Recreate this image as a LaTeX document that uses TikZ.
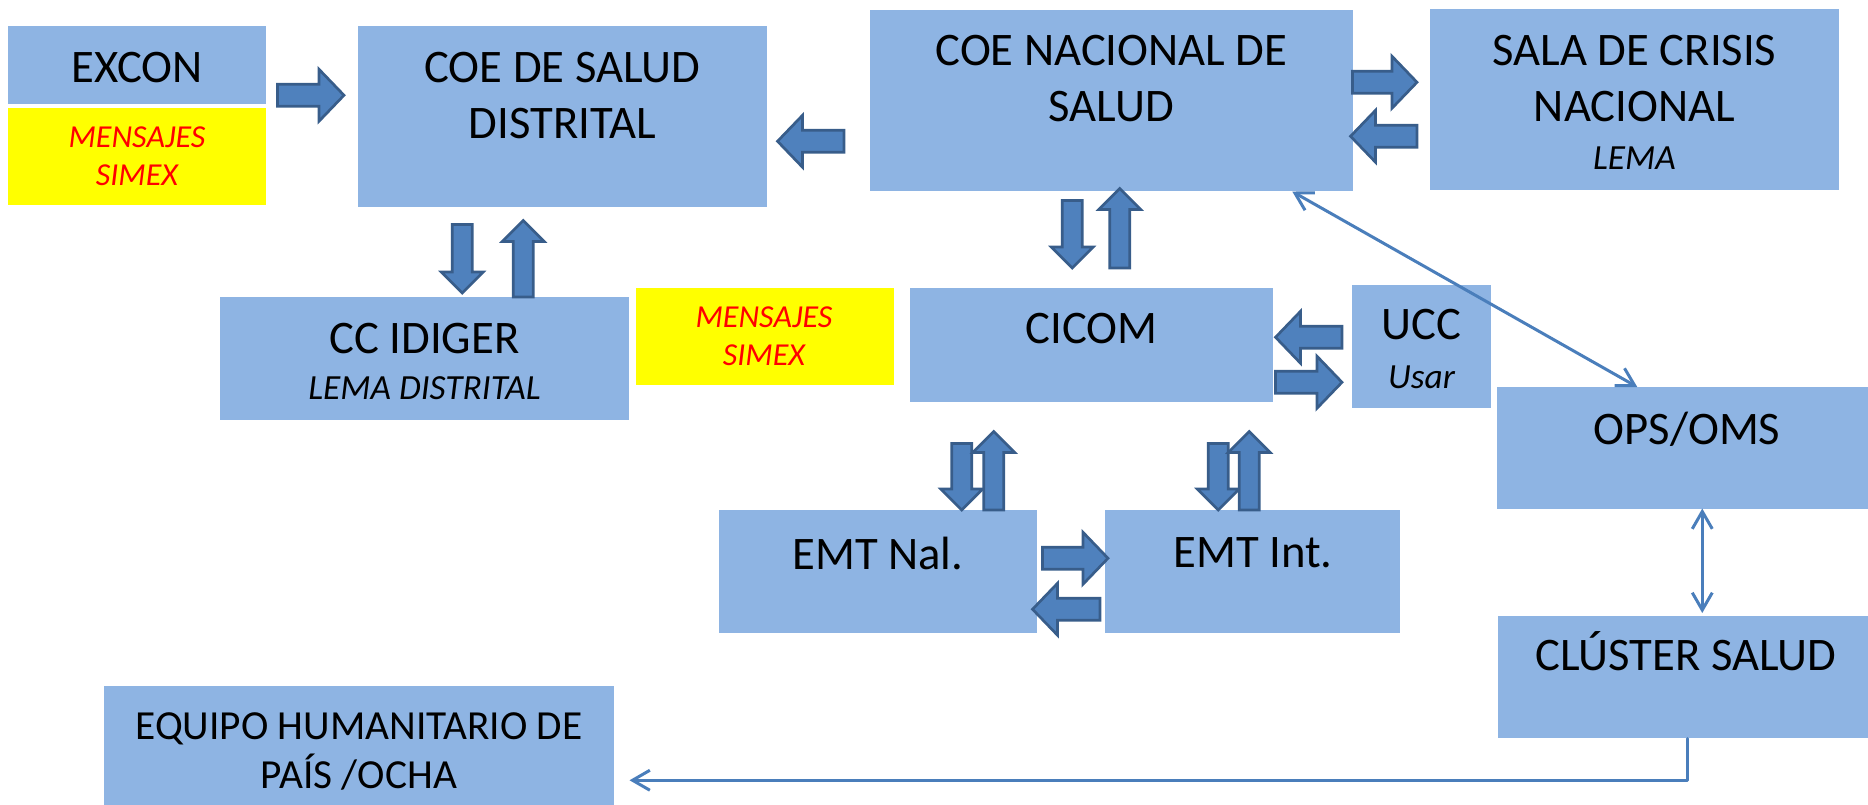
\documentclass[tikz,border=0pt]{standalone}
\usepackage{fontspec}
\setmainfont{Carlito}
\usetikzlibrary{calc,arrows.meta}

\definecolor{boxblue}{HTML}{8EB4E3}
\definecolor{arrowfill}{HTML}{4F81BD}
\definecolor{arrowline}{HTML}{385D8A}
\definecolor{linkblue}{HTML}{4A7EBB}
\definecolor{simexyellow}{HTML}{FFFF00}
\definecolor{simexred}{HTML}{FF0000}

\tikzset{
  box/.style={fill=boxblue, inner sep=0pt, anchor=north west},
  simex/.style={fill=simexyellow, inner sep=0pt, anchor=north west},
  txt/.style={inner sep=0pt, anchor=north, align=center, font=\fontsize{35}{42}\selectfont},
  redtxt/.style={txt, text=simexred, font=\fontsize{24}{28.5}\selectfont\itshape},
  link/.style={draw=linkblue, line width=2.25pt, line cap=round, line join=round},
  blkarrow/.style={fill=arrowfill, draw=arrowline, line width=2pt, line join=miter},
  >={Straight Barb[length=13pt,width=15pt]}
}
\newcommand{\itsub}[1]{{\fontsize{26.5}{30}\selectfont\itshape #1}}
% block arrow: start anchor, shift, end anchor, shift
\newcommand{\blockarr}[4]{%
  \path ([shift={(#2)}]#1) coordinate (bs) ([shift={(#4)}]#3) coordinate (be);
  \filldraw[blkarrow] ($(bs)!\bhs!90:(be)$) -- ($(be)!\bhl!(bs)!\bhs!90:(be)$) -- ($(be)!\bhl!(bs)!\bhw!90:(be)$) -- (be) -- ($(be)!\bhl!(bs)!\bhw!-90:(be)$) -- ($(be)!\bhl!(bs)!\bhs!-90:(be)$) -- ($(bs)!\bhs!-90:(be)$) -- cycle;}

\begin{document}
\begin{tikzpicture}[x=0.75pt,y=0.75pt,yscale=-1,xscale=1]
\useasboundingbox (0,0) rectangle (1868,805);

% Boxes
\node[box, minimum width=193.5pt, minimum height=58.5pt] (excon) at (8,26) {};
\node[simex, minimum width=193.5pt, minimum height=72.75pt] (simexa) at (8,108) {};
\node[box, minimum width=306.75pt, minimum height=135.75pt] (coedist) at (358,26) {};
\node[box, minimum width=362.25pt, minimum height=135.75pt] (coenac) at (870,10) {};
\node[box, minimum width=306.75pt, minimum height=135.75pt] (sala) at (1430,9) {};
\node[box, minimum width=306.75pt, minimum height=92.25pt] (ccidiger) at (220,297) {};
\node[simex, minimum width=193.5pt, minimum height=72.75pt] (simexb) at (636,288) {};
\node[box, minimum width=272.25pt, minimum height=85.5pt] (cicom) at (910,288) {};
\node[box, minimum width=104.25pt, minimum height=92.25pt] (ucc) at (1352,285) {};
\node[box, minimum width=278.25pt, minimum height=91.5pt] (ops) at (1497,387) {};
\node[box, minimum width=238.5pt, minimum height=92.25pt] (emtnal) at (719,510) {};
\node[box, minimum width=221.25pt, minimum height=92.25pt] (emtint) at (1105,510) {};
\node[box, minimum width=277.5pt, minimum height=91.5pt] (cluster) at (1498,616) {};
\node[box, minimum width=382.5pt, minimum height=89.25pt] (equipo) at (104,686) {};

% Texts
\node[txt] (excon-t) at (137,52) {EXCON};
\node[redtxt] (simexa-t) at (137,127) {MENSAJES\\SIMEX};
\node[txt] (coedist-t) at (562.5,52) {COE DE SALUD\\DISTRITAL};
\node[txt] (coenac-t) at (1111.5,35) {COE NACIONAL DE\\SALUD};
\node[txt] (sala-t) at (1634.5,35) {SALA DE CRISIS\\NACIONAL\\[-6pt]\itsub{LEMA}};
\node[txt] (ccidiger-t) at (424.5,323) {CC IDIGER\\[-7.5pt]\itsub{LEMA DISTRITAL}};
\node[redtxt] (simexb-t) at (764,307) {MENSAJES\\SIMEX};
\node[txt] (cicom-t) at (1091.5,313) {CICOM};
\node[txt] (ucc-t) at (1421.5,309) {UCC\\[-5.25pt]\itsub{Usar}};
\node[txt] (ops-t) at (1687,412) {OPS/OMS};
\node[txt] (emtnal-t) at (878,537) {EMT Nal.};
\node[txt] (emtint-t) at (1253,537) {EMT Int.};
\node[txt, anchor=base] (cluster-t) at (1686,670) {CLÚSTER SALUD};
\node[txt, font=\fontsize{31}{37}\selectfont] (equipo-t) at (359,712) {EQUIPO HUMANITARIO DE\\PAÍS /OCHA};

% Block arrows, horizontal
\def\bhs{8.25pt}\def\bhw{19.5pt}\def\bhl{18.75pt}
\blockarr{excon.east}{11,30}{coedist.west}{-14,-21.5}
\blockarr{coenac.west}{-26,40.5}{coedist.east}{10,24.5}
\blockarr{coenac.east}{-1,-18.5}{sala.west}{-13,-17.5}
\blockarr{sala.west}{-13,36.5}{coenac.east}{-3,35.5}
\blockarr{ucc.west}{-10,-9.5}{cicom.east}{2,-8}
\blockarr{cicom.east}{2,37}{ucc.west}{-10,35.5}
\blockarr{emtnal.east}{5,-13.5}{emtint.west}{3,-13.5}
\blockarr{emtint.west}{-5,37.5}{emtnal.east}{-5,37.5}
% Block arrows, vertical
\def\bhs{7.5pt}\def\bhw{15.75pt}\def\bhl{15.75pt}
\blockarr{coedist.south}{-100.5,17}{ccidiger.north}{37.5,-4}
\blockarr{ccidiger.north}{98.5,0}{coedist.south}{-39.5,13}
\blockarr{coenac.south}{-39.5,9}{cicom.north}{-19.5,-20}
\blockarr{cicom.north}{28,-20}{coenac.south}{8,-3}
\blockarr{cicom.south}{-130,41}{emtnal.north}{83.5,0}
\blockarr{emtnal.north}{115.5,0}{cicom.south}{-98,29}
\blockarr{cicom.south}{126.5,41}{emtint.north}{-34.5,0}
\blockarr{emtint.north}{-3.5,0}{cicom.south}{157.5,29}

% Thin connectors
\draw[link, <->] ([shift={(180.5,0)}]coenac.south) -- ([shift={(-45.5,0)}]ops.north);
\draw[link, <->] ([shift={(19.5,-1)}]ops.south) -- ([shift={(19,-3)}]cluster.north);
\draw[link, ->] ([shift={(4,0)}]cluster.south) |- ([shift={(15,34.5)}]equipo.east);

\end{tikzpicture}
\end{document}
